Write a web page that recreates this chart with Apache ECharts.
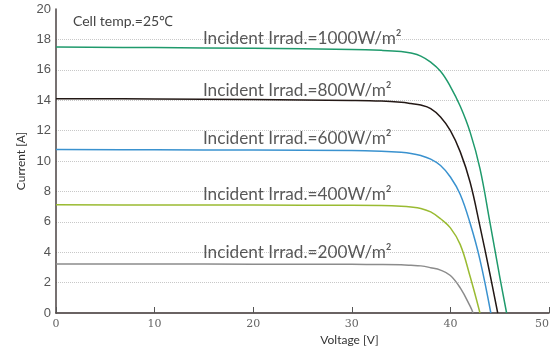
<!DOCTYPE html>
<html>
<head>
<meta charset="utf-8">
<script src="https://cdn.jsdelivr.net/npm/echarts@6/dist/echarts.min.js"></script>
<style>html,body{margin:0;padding:0;background:#fff}#c{width:553px;height:346px}</style>
</head>
<body>
<div id="c"></div>
<script>
// Voltage [V] / Current [A] samples
var v1000 = [0, 10, 20, 30, 33, 35, 36, 37, 38, 39, 40, 41, 42, 43, 44, 45, 45.7];
var i1000 = [17.5, 17.46, 17.41, 17.34, 17.28, 17.2, 17.1, 16.9, 16.5, 15.9, 14.9, 13.6, 11.9, 9.5, 6.0, 2.4, 0];
var v800 = [0, 10, 20, 30, 33, 35, 36, 37, 38, 39, 40, 41, 42, 43, 44, 44.8];
var i800 = [14.1, 14.08, 14.04, 13.98, 13.94, 13.86, 13.78, 13.68, 13.45, 12.9, 12.0, 10.6, 8.6, 5.7, 2.6, 0];
var v600 = [0, 10, 20, 30, 33, 35, 36, 37, 38, 39, 40, 41, 42, 43, 44.1];
var i600 = [10.75, 10.74, 10.72, 10.69, 10.64, 10.57, 10.5, 10.36, 10.12, 9.7, 8.95, 7.8, 5.9, 3.5, 0];
var v400 = [0, 10, 20, 30, 33, 35, 36, 37, 38, 39, 40, 41, 42, 43];
var i400 = [7.12, 7.11, 7.1, 7.09, 7.07, 7.03, 6.98, 6.88, 6.65, 6.2, 5.6, 4.5, 2.4, 0];
var v200 = [0, 10, 20, 30, 33, 35, 36, 37, 38, 39, 40, 41, 42, 42.3];
var i200 = [3.22, 3.22, 3.21, 3.2, 3.19, 3.17, 3.14, 3.1, 2.98, 2.82, 2.47, 1.65, 0.45, 0];

var seriesNames = ['1000', '800', '600', '400', '200'];
var labelTexts = ['Incident Irrad.=1000W/m²', 'Incident Irrad.=800W/m²', 'Incident Irrad.=600W/m²', 'Incident Irrad.=400W/m²', 'Incident Irrad.=200W/m²'];
var labelV = [14.9, 14.9, 14.9, 14.9, 14.9];
var labelI = [18.06, 14.64, 11.48, 7.80, 3.96];
var xTicks = [0, 10, 20, 30, 40, 50];
var yTicks = [0, 2, 4, 6, 8, 10, 12, 14, 16, 18, 20];
var noteText = 'Cell temp.=25℃';

var colors = ['#1f9a6c', '#231815', '#3a92cf', '#9abb32', '#8c8c8c'];
var vs = [v1000, v800, v600, v400, v200];
var is = [i1000, i800, i600, i400, i200];

function pairs(a, b) { return a.map(function (x, k) { return [x, b[k]]; }); }

var series = seriesNames.map(function (n, k) {
  return {
    name: n, type: 'line', data: pairs(vs[k], is[k]), smooth: 0.4,
    showSymbol: false, lineStyle: { color: colors[k], width: 1.5 }, z: 3
  };
});
series.push({
  type: 'scatter', symbolSize: 0, silent: true, z: 5,
  data: labelTexts.map(function (t, k) { return { value: [labelV[k], labelI[k]], name: t }; }),
  label: {
    show: true, position: 'right', distance: 0, formatter: '{b}',
    fontFamily: 'Lato', fontSize: 17.2, color: '#2e2e2e'
  }
});

var chart = echarts.init(document.getElementById('c'));
chart.setOption({
  animation: false,
  backgroundColor: '#fff',
  grid: { left: 56, right: 4, top: 9, bottom: 33, containLabel: false, outerBoundsMode: 'none' },
  title: {
    text: noteText, left: 68, top: 9,
    textStyle: { fontFamily: 'Lato', fontSize: 14, fontWeight: 'normal', color: '#444' }
  },
  xAxis: {
    type: 'value', min: xTicks[0], max: xTicks[xTicks.length - 1], interval: 10,
    name: 'Voltage [V]', nameLocation: 'middle', nameGap: 21, nameMoveOverlap: false,
    nameTextStyle: { fontFamily: 'Lato', fontSize: 12, color: '#333', padding: [0, 0, 0, 94] },
    axisLine: { lineStyle: { color: '#3a3030', width: 1.5 } },
    axisTick: { show: true, inside: true, length: 6, lineStyle: { color: '#555' } },
    axisLabel: { fontFamily: 'DejaVu Serif', fontSize: 11, color: '#666', margin: 6, alignMaxLabel: 'right' },
    splitLine: { show: false }
  },
  yAxis: {
    type: 'value', min: yTicks[0], max: yTicks[yTicks.length - 1], interval: 2,
    name: 'Current [A]', nameLocation: 'middle', nameGap: 29, nameRotate: 90, nameMoveOverlap: false,
    nameTextStyle: { fontFamily: 'Lato', fontSize: 12, color: '#333' },
    axisLine: { show: true, lineStyle: { color: '#4a4242', width: 1.5 } },
    axisTick: { show: false },
    axisLabel: { fontFamily: 'Liberation Sans Narrow, Liberation Sans', fontSize: 13, color: '#555', margin: 5 },
    splitLine: { show: true, showMinLine: false, showMaxLine: false, lineStyle: { type: 'dotted', color: '#c8c8c8', width: 1 } }
  },
  series: series
});
</script>
</body>
</html>
